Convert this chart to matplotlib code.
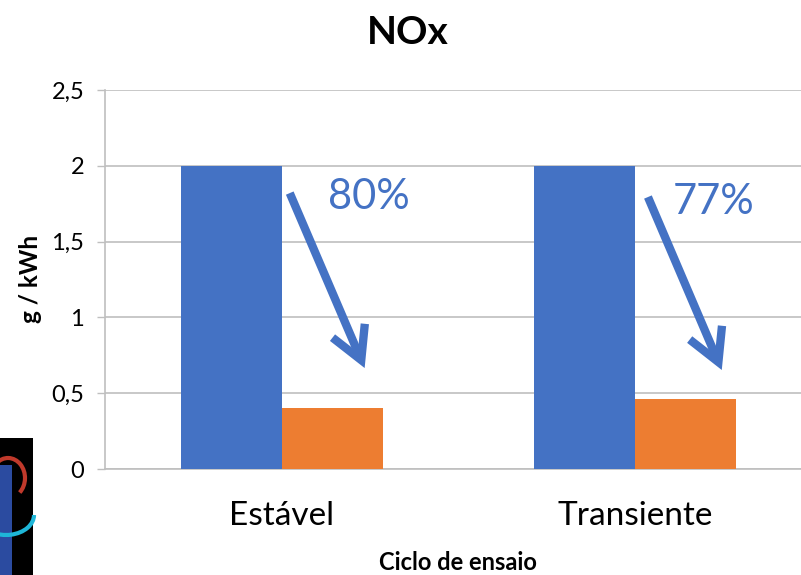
import matplotlib
matplotlib.use("Agg")
import matplotlib.pyplot as plt
import numpy as np
from matplotlib.patches import Rectangle, Arc

# ---- data ----
categories = ["Estável", "Transiente"]
antes = [2.0, 2.0]
depois = [0.40, 0.46]
reducao = ["80%", "77%"]
yticks = [0, 0.5, 1, 1.5, 2, 2.5]
ytick_labels = ["0", "0,5", "1", "1,5", "2", "2,5"]
title = "NOx"
ylabel = "g / kWh"
xlabel = "Ciclo de ensaio"

BLUE = "#4472C4"
ORANGE = "#ED7D31"
GRID = "#BFBFBF"
plt.rcParams['font.family'] = ['Lato', 'DejaVu Sans']

fig = plt.figure(figsize=(8.01, 5.75), dpi=100)
ax = fig.add_axes([105/801, 106/575, 706.5/801, 379/575])

x = np.arange(len(categories))
w = 0.286
ax.bar(x - w/2, antes, w, color=BLUE, zorder=3)
ax.bar(x + w/2, depois, w, color=ORANGE, zorder=3)

ax.set_xlim(-0.5, 1.5)
ax.set_ylim(0, 2.5)
ax.set_yticks(yticks)
ax.set_yticklabels(ytick_labels, fontsize=17)
ax.set_xticks(x)
ax.set_xticklabels(categories, fontsize=24)
ax.tick_params(axis='x', length=0, pad=23)
ax.tick_params(axis='y', length=6, color=GRID, width=1, pad=9)
ax.yaxis.grid(True, color=GRID, linewidth=1.2, zorder=0)
for s in ["top", "right"]:
    ax.spines[s].set_visible(False)
for s in ["left", "bottom"]:
    ax.spines[s].set_color(GRID)
    ax.spines[s].set_linewidth(1.2)

fig.text(408/801, 1 - 32/575, title, ha='center', va='center', fontsize=28, fontweight='bold')
fig.text(30/801, 1 - 279/575, ylabel, ha='center', va='center', rotation=90, fontsize=17.5, fontweight='bold')
fig.text(458/801, 1 - 563/575, xlabel, ha='center', va='center', fontsize=17, fontweight='bold')

# arrows and reduction labels
arrow_start = [(0.023, 1.82), (0.037, 1.794)]
arrow_end = [(0.235, 0.666), (0.246, 0.653)]
text_pos = [(0.130, 1.794), (0.108, 1.761)]
for i, r in enumerate(reducao):
    sx, sy = arrow_start[i]
    ex, ey = arrow_end[i]
    ax.annotate('', xy=(i + ex, ey), xytext=(i + sx, sy),
                arrowprops=dict(arrowstyle='->,head_length=1.0,head_width=0.55',
                                color=BLUE, lw=6, shrinkA=0, shrinkB=0,
                                mutation_scale=23, joinstyle='miter', capstyle='butt'),
                zorder=5)
    tx, ty = text_pos[i]
    ax.text(i + tx, ty, r, color=BLUE, fontsize=30, ha='left', va='center', zorder=5)

# logo fragment at bottom-left
fig.patches.append(Rectangle((0, 0), 33/801, 137/575, transform=fig.transFigure,
                             facecolor='black', edgecolor='none', zorder=10))
fig.patches.append(Rectangle((0, 0), 12/801, 110/575, transform=fig.transFigure,
                             facecolor='#2B4BA0', edgecolor='none', zorder=11))
fig.patches.append(Arc((8/801, 1 - 478/575), 34/801, 40/575, theta1=-60, theta2=120,
                       transform=fig.transFigure, color='#C0392B', lw=3, zorder=12))
fig.patches.append(Arc((6/801, 1 - 515/575), 56/801, 40/575, theta1=200, theta2=360,
                       transform=fig.transFigure, color='#1EB6D8', lw=3, zorder=12))

fig.savefig("out.png", dpi=100)
